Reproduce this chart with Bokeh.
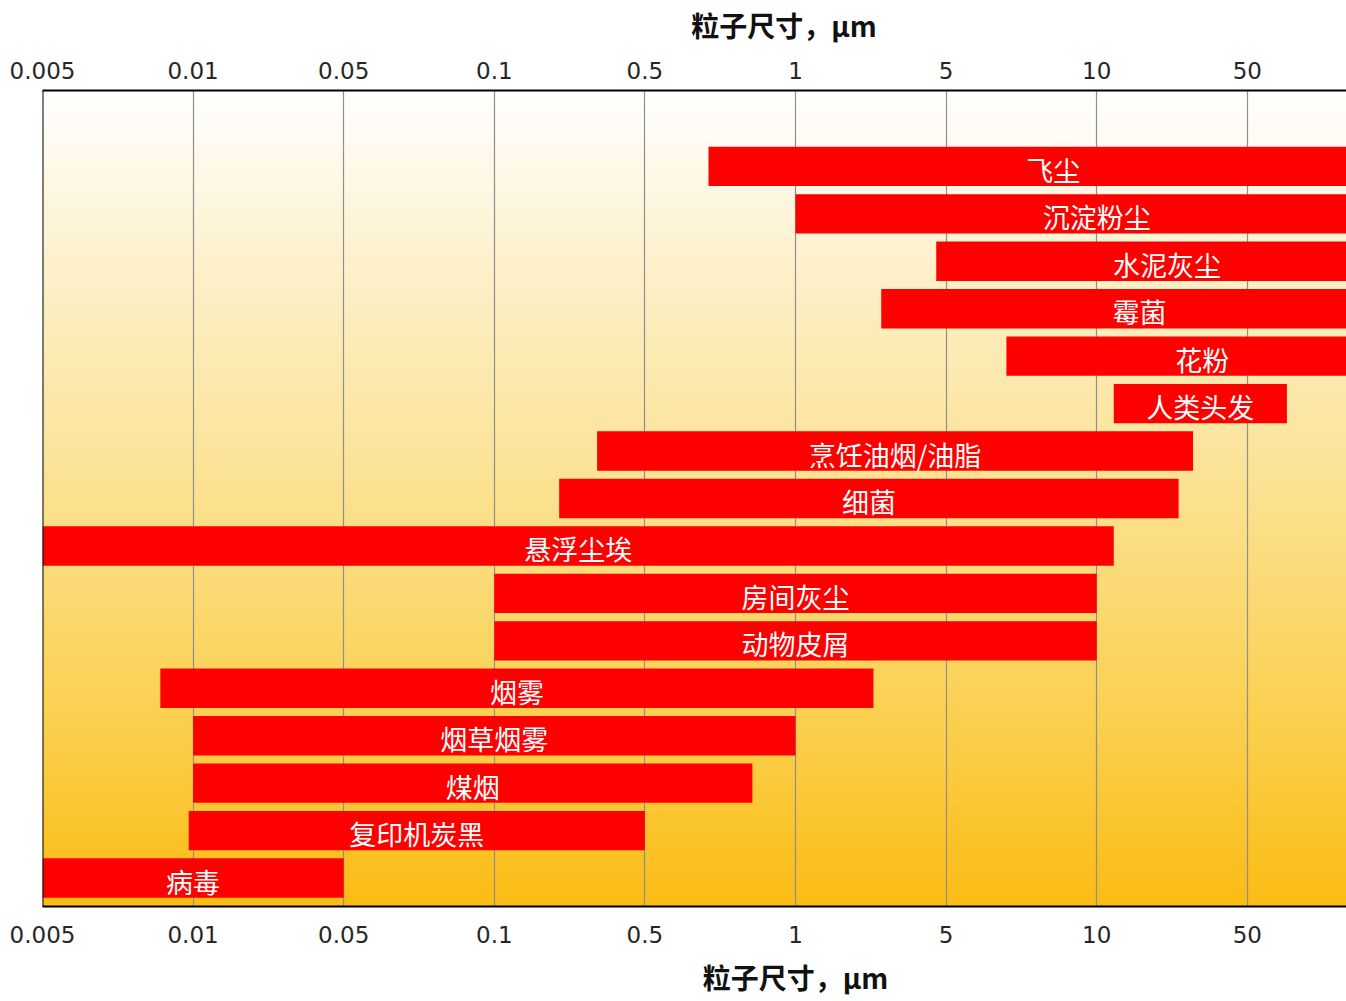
import numpy as np
from bokeh.plotting import figure
from bokeh.models import Range1d, LinearAxis, FixedTicker, Span, ColumnDataSource
from bokeh.core.properties import value
from bokeh.embed import file_html
from bokeh.resources import INLINE

# ---- data ----
particles = ["飞尘", "沉淀粉尘", "水泥灰尘", "霉菌", "花粉", "人类头发",
             "烹饪油烟/油脂", "细菌", "悬浮尘埃", "房间灰尘", "动物皮屑",
             "烟雾", "烟草烟雾", "煤烟", "复印机炭黑", "病毒"]
size_min = [0.67, 1.0, 4.5, 2.5, 6.6, 12, 0.3, 0.2, 0.005, 0.1, 0.1,
            0.0086, 0.01, 0.01, 0.0098, 0.005]
size_max = [100, 100, 100, 100, 100, 60, 28, 24, 12, 10, 10,
            2.3, 1.0, 0.82, 0.5, 0.05]
tick_values = [0.005, 0.01, 0.05, 0.1, 0.5, 1, 5, 10, 50]
tick_labels = ["0.005", "0.01", "0.05", "0.1", "0.5", "1", "5", "10", "50"]
scale_values = tick_values + [100]
axis_title = "粒子尺寸，μm"

# equally spaced 1-2-5 style scale (piecewise logarithmic)
def to_pos(v):
    return np.interp(np.log10(np.asarray(v, dtype=float)),
                     np.log10(scale_values), np.arange(len(scale_values)))

left = to_pos(size_min)
right = to_pos(size_max)
ypos = np.arange(len(particles))[::-1].astype(float)
src = ColumnDataSource(dict(y=ypos, left=left, right=right,
                            mid=(left + right) / 2, name=particles))
ticks = [float(t) for t in to_pos(tick_values)]

W, H = 1346, 1001
FL, FT, FB = 42, 90, 95          # frame borders (px)
frame_w = W - FL
frame_h = H - FT - FB
PX_X = 150.6                      # px per tick step
X_END = frame_w / PX_X
Y0, Y1 = -0.6, 16.6

p = figure(width=W, height=H,
           x_range=Range1d(0, X_END), y_range=Range1d(Y0, Y1),
           x_axis_location="above", y_axis_location=None,
           output_backend="svg", toolbar_location=None,
           min_border_left=FL, min_border_right=0,
           min_border_top=FT, min_border_bottom=FB)
p.outline_line_color = None
p.background_fill_color = "white"
p.border_fill_color = "white"

# gradient background
stops = [0.0, 0.25, 0.5, 0.75, 1.0]
cols = np.array([[255, 255, 255], [253, 239, 196], [251, 225, 143],
                 [251, 210, 85], [251, 188, 20]], dtype=float)
n = frame_h
t = np.linspace(1.0, 0.0, n)  # row 0 = bottom
rgb = np.stack([np.interp(t, stops, cols[:, k]) for k in range(3)], axis=1).astype(np.uint8)
img = np.empty((n, 2), dtype=np.uint32)
view = img.view(dtype=np.uint8).reshape((n, 2, 4))
for j in range(2):
    view[:, j, 0] = rgb[:, 0]
    view[:, j, 1] = rgb[:, 1]
    view[:, j, 2] = rgb[:, 2]
    view[:, j, 3] = 255
bg = p.image_rgba(image=[img], x=0, y=Y0, dw=X_END, dh=Y1 - Y0)
bg.level = "image"

# grid
p.ygrid.visible = False
p.xgrid.ticker = FixedTicker(ticks=ticks)
p.xgrid.grid_line_color = "#8f8f8f"
p.xgrid.grid_line_width = 1.2

# bars
p.hbar(y="y", left="left", right="right", height=0.83, source=src,
       fill_color="#FE0000", line_color=None)
p.text(x="mid", y="y", text="name", source=src, text_color="white",
       text_font=value("Noto Sans CJK SC"), text_font_size="27px",
       text_align="center", text_baseline="middle", y_offset=3)

p.add_layout(Span(location=0, dimension="height", line_color="black", line_width=2))

# value axes
bottom_axis = LinearAxis()
p.add_layout(bottom_axis, "below")
overrides = {t_: lbl for t_, lbl in zip(ticks, tick_labels)}
for ax, standoff in ((p.above[0], 12), (bottom_axis, 19)):
    ax.ticker = FixedTicker(ticks=ticks)
    ax.major_label_overrides = overrides
    ax.axis_line_color = "black"
    ax.axis_line_width = 2
    ax.major_tick_line_color = None
    ax.minor_tick_line_color = None
    ax.major_tick_out = 0
    ax.major_tick_in = 0
    ax.major_label_standoff = standoff
    ax.major_label_text_font = "DejaVu Sans"
    ax.major_label_text_font_size = "23px"
    ax.major_label_text_color = "#262626"

# axis titles: one-label axes stacked outside the value axes
def title_axis(center_px, gap):
    pos = (center_px - FL) / PX_X
    return LinearAxis(ticker=FixedTicker(ticks=[pos]),
                      major_label_overrides={pos: axis_title},
                      axis_line_color=None, major_tick_line_color=None,
                      minor_tick_line_color=None, major_tick_out=0, major_tick_in=0,
                      major_label_standoff=gap,
                      major_label_text_font="Noto Sans CJK SC",
                      major_label_text_font_size="28px",
                      major_label_text_font_style="bold",
                      major_label_text_color="#111111")

p.add_layout(title_axis(783.5, 14), "above")
p.add_layout(title_axis(795, 11), "below")

open("out.html", "w").write(file_html(p, INLINE))
